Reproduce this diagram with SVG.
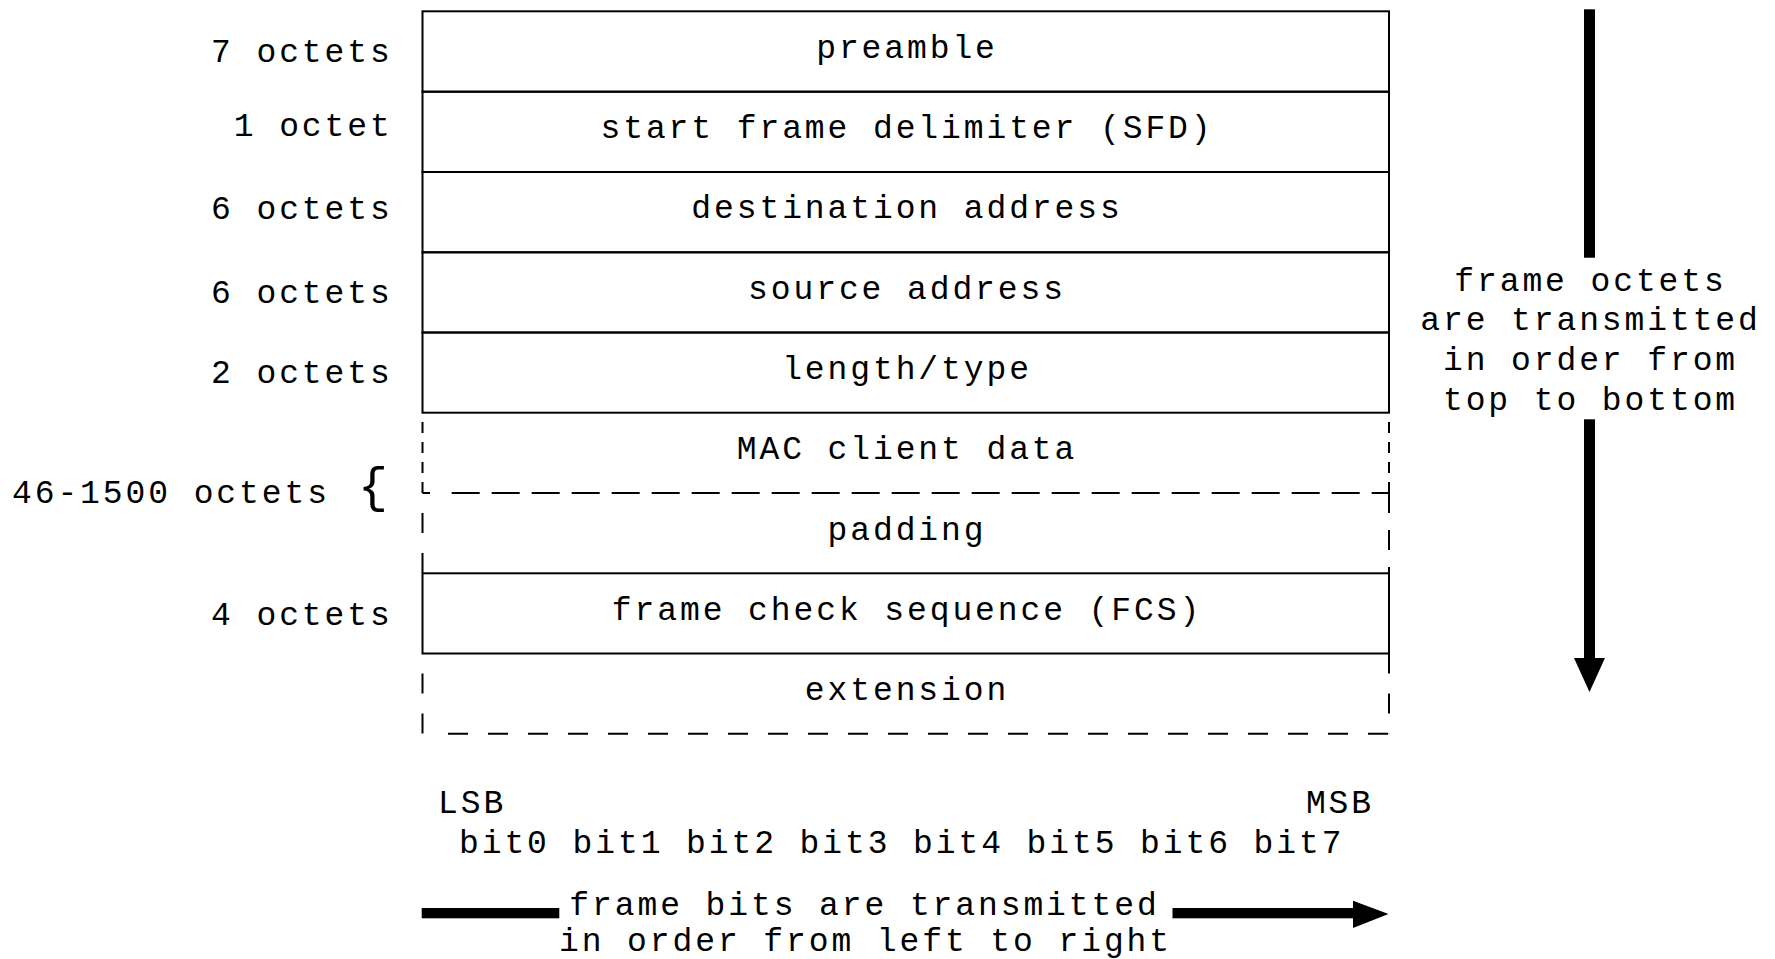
<svg xmlns="http://www.w3.org/2000/svg" width="1775" height="959" viewBox="0 0 1775 959">
<style>
text{font-family:"Liberation Mono","DejaVu Sans Mono",monospace;font-size:33px;letter-spacing:2.9px;fill:#000}
.c{text-anchor:middle}
.e{text-anchor:end}
.ln{stroke:#000;stroke-width:2;fill:none}
.d1{stroke-dasharray:11 9}
.d2{stroke-dasharray:20 20}
.d3{stroke-dasharray:28 12}
.ar{fill:#000;stroke:none}
</style>
<rect width="1775" height="959" fill="#fff"/>
<g id="labels">
<text class="e" x="392.7" y="62">7 octets</text>
<text class="e" x="392.7" y="136">1 octet</text>
<text class="e" x="392.7" y="219">6 octets</text>
<text class="e" x="392.7" y="303">6 octets</text>
<text class="e" x="392.7" y="383">2 octets</text>
<text x="12" y="503">46-1500 octets</text>
<text class="c" x="373" y="502" style="font-size:50px;letter-spacing:0">{</text>
<text class="e" x="392.7" y="625">4 octets</text>
</g>
<g id="preamble">
<rect class="ln" x="422.5" y="11.3" width="966.5" height="80.4"/>
<text class="c" x="907" y="57.5">preamble</text>
</g>
<g id="sfd">
<rect class="ln" x="422.5" y="91.7" width="966.5" height="80.3"/>
<text class="c" x="907" y="138">start frame delimiter (SFD)</text>
</g>
<g id="destination">
<rect class="ln" x="422.5" y="172" width="966.5" height="80.3"/>
<text class="c" x="907" y="218.3">destination address</text>
</g>
<g id="source">
<rect class="ln" x="422.5" y="252.3" width="966.5" height="80.2"/>
<text class="c" x="907" y="298.5">source address</text>
</g>
<g id="lengthtype">
<rect class="ln" x="422.5" y="332.5" width="966.5" height="80.2"/>
<text class="c" x="907" y="379">length/type</text>
</g>
<g id="macdata">
<path class="ln d1" d="M422.5 493 V412.7"/>
<path class="ln d1" d="M1389 493 V412.7"/>
<path class="ln" d="M422.5 493 H430"/>
<path class="ln d3" d="M451.7 493 H1389"/>
<text class="c" x="907" y="459.3">MAC client data</text>
</g>
<g id="padding">
<path class="ln d2" style="stroke-dashoffset:20" d="M422.5 493 V573.3"/>
<path class="ln" style="stroke-dasharray:20 17" d="M1389 493 V573.3"/>
<text class="c" x="907" y="540">padding</text>
</g>
<g id="fcs">
<rect class="ln" x="422.5" y="573.3" width="966.5" height="80.2"/>
<text class="c" x="907" y="620">frame check sequence (FCS)</text>
</g>
<g id="extension">
<path class="ln d2" style="stroke-dashoffset:20" d="M422.5 653.5 V733.7"/>
<path class="ln d2" d="M1389 653.5 V733.7"/>
<path class="ln d2" d="M448 733.7 H1389"/>
<text class="c" x="907" y="700">extension</text>
</g>
<g id="bits">
<text x="438" y="813">LSB</text>
<text class="e" x="1374" y="813">MSB</text>
<text x="459" y="853">bit0 bit1 bit2 bit3 bit4 bit5 bit6 bit7</text>
</g>
<g id="octet-order">
<text class="c" x="1590.5" y="291">frame octets</text>
<text class="c" x="1590.5" y="330">are transmitted</text>
<text class="c" x="1590.5" y="370">in order from</text>
<text class="c" x="1590.5" y="410">top to bottom</text>
</g>
<g id="bit-order">
<text class="c" x="864.5" y="914.5">frame bits are transmitted</text>
<text class="c" x="865.5" y="951">in order from left to right</text>
</g>
<g id="connectors">
<rect class="ar" x="1584" y="9.3" width="11" height="248.4"/>
<rect class="ar" x="1584" y="419.3" width="11" height="239.7"/>
<polygon class="ar" points="1574,658 1605,658 1589.5,692"/>
<rect class="ar" x="421.7" y="908" width="137.6" height="10.3"/>
<rect class="ar" x="1172.5" y="908" width="181.5" height="10.3"/>
<polygon class="ar" points="1353,900.7 1388.5,914 1353,928"/>
</g>
</svg>
